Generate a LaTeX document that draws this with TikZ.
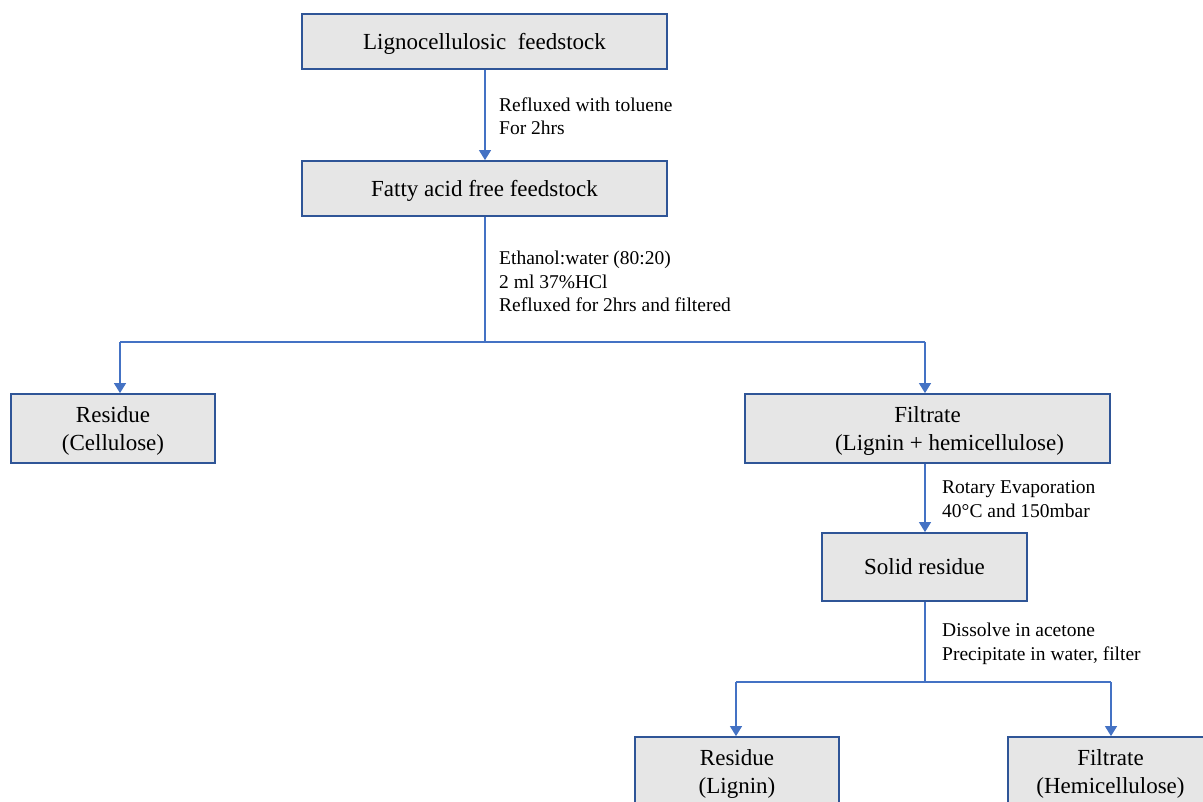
\documentclass[tikz,border=0pt]{standalone}
\usepackage{fontspec}
\setmainfont{Liberation Serif}
\usetikzlibrary{arrows.meta}
\definecolor{boxborder}{HTML}{2F5597}
\definecolor{boxfill}{HTML}{E6E6E6}
\definecolor{linecol}{HTML}{4472C4}
\begin{document}
\begin{tikzpicture}[x=1pt,y=-1pt,
  box/.style={draw=boxborder,fill=boxfill,line width=1.8pt,inner sep=0pt,
    align=center,text depth=0pt,font=\fontsize{23}{28.5}\selectfont},
  conn/.style={draw=linecol,line width=1.2pt},
  arr/.style={conn,-{Triangle[width=12pt,length=10pt]}},
  lab/.style={anchor=base west,align=left,inner sep=0pt,
    font=\fontsize{19.5}{23.5}\selectfont}]
\useasboundingbox (0,0) rectangle (1203,802);
\clip (0,0) rectangle (1203,802);
\node[box,minimum width=365pt,minimum height=55pt] (b1) at (484.5,41.5) {Lignocellulosic\ \ feedstock};
\node[box,minimum width=365pt,minimum height=55pt] (b2) at (484.5,188.5) {Fatty acid free feedstock};
\node[box,minimum width=204pt,minimum height=69pt] (b3) at (113,428.5) {Residue\\(Cellulose)};
\node[box,minimum width=365pt,minimum height=69pt] (b4) at (927.5,428.5) {Filtrate\\\hspace*{44pt}(Lignin + hemicellulose)};
\node[box,minimum width=205pt,minimum height=68pt] (b5) at (924.5,567) {Solid residue};
\node[box,minimum width=204pt,minimum height=69pt] (b6) at (737,771.5) {Residue\\(Lignin)};
\node[box,minimum width=205pt,minimum height=69pt] (b7) at (1110.5,771.5) {Filtrate\\(Hemicellulose)};
\coordinate (j1) at (485,342);
\coordinate (l1) at (120,342);
\coordinate (r1) at (925,342);
\coordinate (j2) at (925,682);
\coordinate (l2) at (736,682);
\coordinate (r2) at (1111,682);
\draw[arr] (b1.south -| j1) -- (b2.north -| j1);
\draw[conn] (b2.south -| j1) -- (j1);
\draw[conn] (l1) -- (r1);
\draw[arr] (l1) -- (l1 |- b3.north);
\draw[arr] (r1) -- (r1 |- b4.north);
\draw[arr] (b4.south -| r1) -- (b5.north -| r1);
\draw[conn] (b5.south -| j2) -- (j2);
\draw[conn] (l2) -- (r2);
\draw[arr] (l2) -- (l2 |- b6.north);
\draw[arr] (r2) -- (r2 |- b7.north);
\node[lab] (t1) at (499,135) {Refluxed with toluene\\For 2hrs};
\node[lab] (t2) at (499,312) {Ethanol:water (80:20)\\2 ml 37\%HCl\\Refluxed for 2hrs and filtered};
\node[lab] (t3) at (942,517) {Rotary Evaporation\\40°C and 150mbar};
\node[lab] (t4) at (942,660) {Dissolve in acetone\\Precipitate in water, filter};
\end{tikzpicture}
\end{document}
